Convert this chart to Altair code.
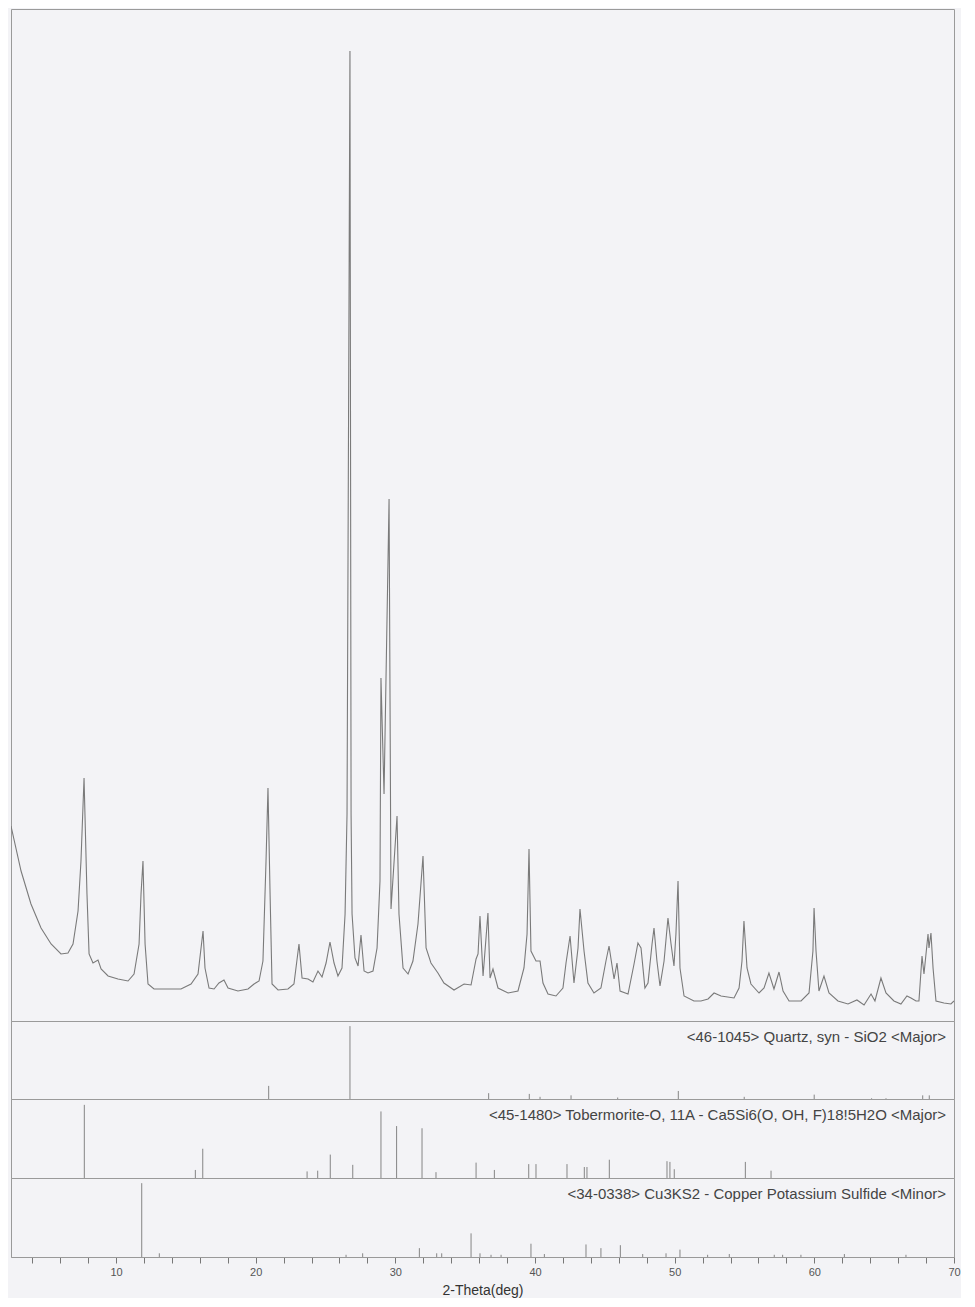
import altair as alt
import pandas as pd

# ---- measured XRD trace (2-theta in degrees, intensity in arbitrary counts) ----
trace_theta = [
    2.48, 3.20, 3.91, 4.63, 5.35, 6.06, 6.56, 6.92, 7.28, 7.49, 7.71, 7.92, 8.07, 8.35, 8.71, 8.93,
    9.43, 10.14, 10.86, 11.29, 11.65, 11.79, 11.93, 12.08, 12.29, 12.72, 13.72, 14.65, 15.37, 15.87,
    16.23, 16.37, 16.66, 17.02, 17.37, 17.73, 18.02, 18.73, 19.45, 19.88, 20.24, 20.52, 20.74, 20.88,
    21.03, 21.17, 21.60, 22.31, 22.74, 23.10, 23.32, 23.75, 24.10, 24.46, 24.75, 25.04, 25.32, 25.61,
    25.89, 26.18, 26.40, 26.54, 26.75, 26.83, 26.90, 27.11, 27.33, 27.54, 27.76, 28.04, 28.40, 28.69,
    28.90, 28.97, 29.19, 29.55, 29.69, 30.12, 30.26, 30.55, 30.91, 31.26, 31.62, 31.98, 32.20, 32.55,
    33.05, 33.48, 34.20, 34.92, 35.42, 35.78, 35.92, 36.06, 36.28, 36.63, 36.78, 36.99, 37.35, 38.07,
    38.78, 39.21, 39.43, 39.57, 39.71, 40.07, 40.36, 40.57, 40.93, 41.50, 42.00, 42.22, 42.51, 42.79,
    43.08, 43.22, 43.51, 43.79, 44.22, 44.72, 45.08, 45.30, 45.66, 45.87, 46.09, 46.66, 47.09, 47.37,
    47.59, 47.87, 48.09, 48.38, 48.52, 48.73, 48.95, 49.24, 49.52, 49.74, 49.95, 50.09, 50.24, 50.38,
    50.67, 51.38, 51.88, 52.39, 52.82, 53.32, 54.25, 54.61, 54.82, 54.96, 55.18, 55.46, 56.04, 56.40,
    56.75, 57.11, 57.47, 57.76, 58.19, 59.05, 59.62, 59.90, 59.98, 60.12, 60.33, 60.69, 61.05, 61.69,
    62.41, 63.05, 63.56, 64.06, 64.34, 64.77, 65.13, 65.70, 66.20, 66.63, 66.92, 67.28, 67.49, 67.71,
    67.85, 68.14, 68.21, 68.35, 68.50, 68.71, 69.28, 69.78, 70.00,
]
trace_counts = [
    195, 150, 117, 93, 77, 67, 68, 77, 110, 160, 243, 127, 67, 58, 61, 52,
    45, 42, 40, 47, 77, 127, 160, 77, 37, 32, 32, 32, 37, 47,
    90, 53, 33, 32, 38, 41, 33, 30, 32, 37, 40, 60, 160, 233,
    127, 37, 31, 32, 37, 77, 43, 42, 39, 50, 44, 58, 79, 58,
    45, 53, 107, 207, 970, 207, 107, 63, 55, 86, 50, 48, 50, 73,
    140, 343, 227, 522, 112, 205, 107, 53, 47, 60, 97, 165, 73, 58,
    48, 38, 31, 37, 36, 62, 67, 105, 45, 108, 43, 52, 33, 28,
    30, 53, 87, 172, 70, 60, 60, 38, 27, 25, 33, 58, 85, 38,
    73, 112, 70, 38, 28, 33, 60, 75, 42, 58, 30, 27, 57, 78,
    73, 33, 38, 77, 93, 60, 35, 60, 103, 77, 55, 87, 140, 53,
    25, 20, 20, 22, 28, 25, 23, 33, 60, 100, 53, 37, 28, 33,
    48, 32, 49, 30, 20, 20, 28, 70, 113, 70, 30, 45, 28, 20,
    17, 21, 16, 27, 20, 43, 28, 20, 17, 25, 23, 20, 20, 65,
    47, 87, 73, 88, 53, 20, 18, 17, 20,
]

# ---- reference stick patterns (relative intensity, %) ----
quartz_theta = [20.93, 26.75, 36.68, 39.59, 40.36, 42.58, 45.92, 50.26, 54.98, 59.99, 64.10, 65.13, 67.76, 68.23]
quartz_int = [18, 100, 8, 7, 3, 5, 2, 11, 3, 6, 1, 1, 5, 5]
quartz_label = "<46-1045> Quartz, syn - SiO2 <Major>"

tober_theta = [7.73, 15.68, 16.21, 23.68, 24.44, 25.34, 26.95, 28.97, 30.09, 31.91, 32.91, 35.78,
               37.09, 39.55, 40.07, 42.29, 43.53, 43.72, 45.32, 49.45, 49.66, 49.97, 55.06, 56.90]
tober_int = [100, 11, 40, 9, 10, 32, 18, 91, 71, 68, 8, 21,
             11, 19, 19, 19, 15, 15, 25, 23, 22, 12, 22, 10]
tober_label = "<45-1480> Tobermorite-O, 11A - Ca5Si6(O, OH, F)18!5H2O <Major>"

cu_theta = [11.84, 13.10, 26.47, 27.66, 31.72, 32.96, 33.32, 35.42, 36.06, 36.85, 37.57, 39.71,
            40.67, 43.65, 44.72, 46.11, 47.71, 49.38, 50.38, 52.36, 53.91, 57.13, 57.73, 59.04,
            62.15, 66.56]
cu_int = [100, 5, 3, 5, 12, 5, 5, 32, 5, 3, 3, 18,
          4, 17, 12, 16, 4, 5, 10, 3, 4, 3, 3, 3,
          4, 3]
cu_label = "<34-0338> Cu3KS2 - Copper Potassium Sulfide <Minor>"

tick_values = list(range(4, 71, 2))
x_title = "2-Theta(deg)"

X_DOMAIN = [2.48, 70.0]
LABEL_X = 69.43
W = 943
FONT = "Liberation Sans"
LINE_GRAY = "#7a7a7a"
STICK_GRAY = "#858585"

xscale = alt.Scale(domain=X_DOMAIN, nice=False, zero=False)

# ---- main diffraction pattern ----
trace_df = pd.DataFrame({"theta": trace_theta, "counts": trace_counts})
main = alt.Chart(trace_df).mark_line(color=LINE_GRAY, strokeWidth=1.1, clip=True).encode(
    x=alt.X("theta:Q", scale=xscale, axis=None),
    y=alt.Y("counts:Q", scale=alt.Scale(domain=[0, 1012], nice=False, zero=True), axis=None),
).properties(width=W, height=1012)


def stick_panel(theta, inten, label, height, ymax, axis):
    df = pd.DataFrame({"theta": theta, "intensity": inten})
    ldf = pd.DataFrame({"theta": [LABEL_X], "label": [label]})
    xenc = alt.X("theta:Q", scale=xscale, axis=axis, title=x_title if axis is not None else None)
    sticks = alt.Chart(df).mark_rule(color=STICK_GRAY, strokeWidth=1).encode(
        x=xenc,
        y=alt.Y("intensity:Q", scale=alt.Scale(domain=[0, ymax], nice=False), axis=None),
        y2=alt.datum(0),
    )
    txt = alt.Chart(ldf).mark_text(
        align="right", baseline="middle", fontSize=15, font=FONT, color="#444444"
    ).encode(
        x=xenc,
        y=alt.value(16),
        text="label:N",
    )
    return alt.layer(sticks, txt).properties(width=W, height=height)


bottom_axis = alt.Axis(
    values=tick_values,
    labelExpr="datum.value % 10 === 0 ? datum.label : ''",
    tickSize=6,
    tickColor="#777777",
    domainColor="#999999",
    labelColor="#555555",
    labelFontSize=11,
    labelFont=FONT,
    labelPadding=3,
    labelFlush=False,
    labelOverlap=False,
    grid=False,
    titleFont=FONT,
    titleFontSize=14,
    titleFontWeight="normal",
    titleColor="#333333",
    titlePadding=6,
)

quartz = stick_panel(quartz_theta, quartz_int, quartz_label, 78, 107, None)
tober = stick_panel(tober_theta, tober_int, tober_label, 79, 108, None)
cu = stick_panel(cu_theta, cu_int, cu_label, 79, 107, bottom_axis)

chart = alt.vconcat(main, quartz, tober, cu, spacing=0, bounds="flush").properties(
    padding={"left": 2, "right": 0, "top": 0, "bottom": 0},
    background="#f3f3f6",
).configure_view(
    stroke="#9a9a9a", strokeWidth=1
).configure_concat(spacing=0)

chart.save("out.html", embed_options={"renderer": "svg", "actions": False})
